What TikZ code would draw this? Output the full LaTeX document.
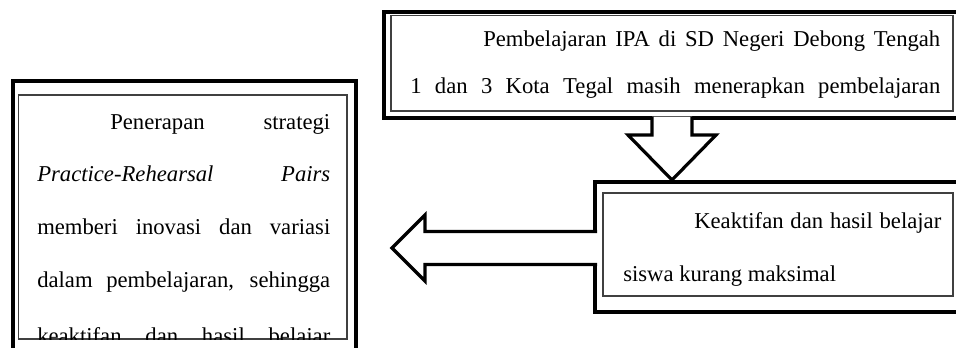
\documentclass[tikz,border=0pt]{standalone}
\usepackage{fontspec}
\setmainfont{Liberation Serif}
\usetikzlibrary{calc}

\newlength{\pxu}
\setlength{\pxu}{0.75pt}
\newcommand{\jline}[2]{\makebox[#1\pxu][s]{#2}}

\tikzset{
  outerbox/.style={line width=3pt},
  innerbox/.style={line width=0.8pt,draw=black!75},
  blockarrow/.style={line width=2.4pt,fill=white,line join=miter},
  txt/.style={anchor=base west,inner sep=0pt,font=\fontsize{17}{20}\selectfont},
}

\begin{document}
\begin{tikzpicture}[x=0.75pt,y=-0.75pt]
  \clip (0,0) rectangle (956,347);

  % kotak atas
  \coordinate (A) at (384,12);
  \coordinate (B) at (985,118);
  \coordinate (A1) at (391,15.5);
  \coordinate (B1) at (953,111);
  \draw[outerbox] (A) rectangle (B);
  \draw[innerbox] (A1) rectangle (B1);
  \node[txt] (atas1) at (483,46) {\jline{457}{Pembelajaran IPA di SD Negeri Debong Tengah}};
  \node[txt] (atas2) at (410,93) {\jline{530}{1 dan 3 Kota Tegal masih menerapkan pembelajaran}};

  % kotak tengah
  \coordinate (C) at (595,182);
  \coordinate (D) at (985,312);
  \coordinate (C1) at (603,193);
  \coordinate (D1) at (953,296);
  \draw[outerbox] (C) rectangle (D);
  \draw[innerbox] (C1) rectangle (D1);
  \node[txt] (tengah1) at (694,228) {\jline{247}{Keaktifan dan hasil belajar}};
  \node[txt] (tengah2) at (623,281) {siswa kurang maksimal};

  % kotak kiri
  \coordinate (E) at (13,81);
  \coordinate (F) at (356,370);
  \coordinate (E1) at (18.5,95);
  \coordinate (F1) at (347,339);
  \draw[outerbox] (E) rectangle (F);
  \draw[innerbox] (E1) rectangle (F1);
  \begin{scope}
    \clip (E1) rectangle (F1);
    \node[txt] (kiri1) at (110,129) {\jline{220}{Penerapan strategi}};
    \node[txt] (kiri2) at (37,181) {\jline{293}{\textit{Practice-Rehearsal} \textit{Pairs}}};
    \node[txt] (kiri3) at (37,234) {\jline{293}{memberi inovasi dan variasi}};
    \node[txt] (kiri4) at (37,287) {\jline{293}{dalam pembelajaran, sehingga}};
    \node[txt] (kiri5) at (37,343) {\jline{293}{keaktifan dan hasil belajar}};
  \end{scope}

  % panah bawah
  \coordinate (P) at (672,116.5);
  \coordinate (Q) at (672,180);
  \draw[blockarrow] ($(P)+(-20,0)$) -- ++(0,18.5) -- ++(-24,0) -- (Q)
    -- ($(P)+(44,18.5)$) -- ++(-24,0) -- ($(P)+(20,0)$);

  % panah kiri
  \coordinate (R) at (597,248);
  \coordinate (S) at (392,248);
  \draw[blockarrow] ($(R)+(0,-16.5)$) -- ++(-172,0) -- ++(0,-16.5) -- (S)
    -- ($(R)+(-172,33)$) -- ++(0,-16.5) -- ($(R)+(0,16.5)$);
\end{tikzpicture}
\end{document}
